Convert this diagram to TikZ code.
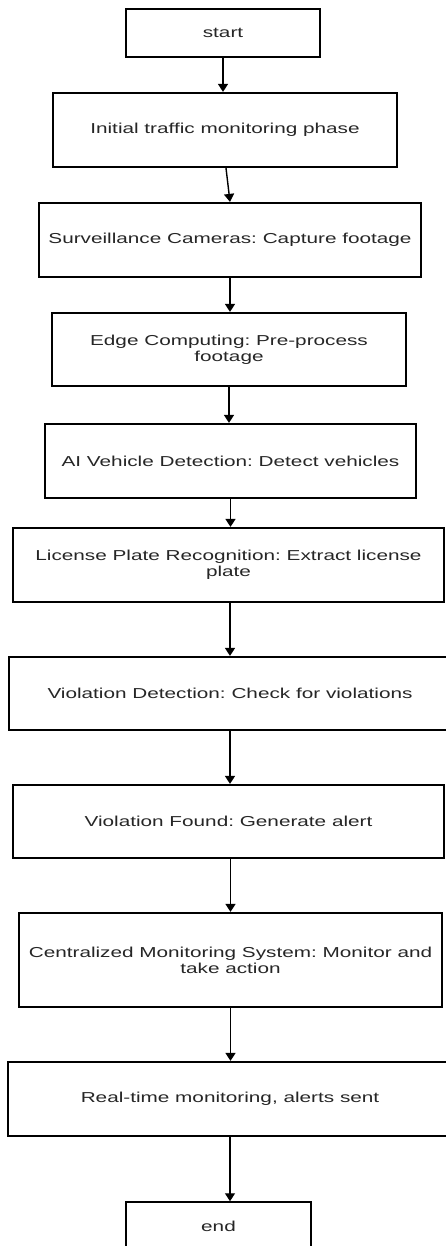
\documentclass[tikz,border=0pt]{standalone}
\usepackage{fontspec}
\setmainfont{Liberation Sans}[FakeStretch=1.44]
\usetikzlibrary{arrows.meta}

\tikzset{
  flowbox/.style={draw=black, line width=2.2pt, fill=white, align=center,
    inner xsep=0pt, inner ysep=0pt, text=black!85,
    font=\frenchspacing\fontsize{14.4}{16}\selectfont},
  termbox/.style={flowbox, line width=1.5pt},
  flowarrow/.style={draw=black, line width=1.4pt,
    -{Triangle[width=10pt,length=8pt]}}
}

\begin{document}
\begin{tikzpicture}[x=1pt, y=-1pt]
\useasboundingbox (0,0) rectangle (446,1246);

% process steps, top to bottom
\node[termbox, minimum width=194pt, minimum height=48pt] (start) at (223,33) {start};
\node[flowbox, minimum width=344pt, minimum height=74pt] (init) at (225,130) {Initial traffic monitoring phase};
\node[flowbox, minimum width=382pt, minimum height=74pt] (surv) at (230,240) {Surveillance Cameras: Capture footage};
\node[flowbox, minimum width=354pt, minimum height=73pt] (edge) at (229,349.5) {Edge Computing: Pre-process\\footage};
\node[flowbox, minimum width=371pt, minimum height=74pt] (ai) at (230.5,461) {AI Vehicle Detection: Detect vehicles};
\node[flowbox, minimum width=431pt, minimum height=74pt] (lpr) at (228.5,565) {License Plate Recognition: Extract license\\plate};
\node[flowbox, minimum width=442pt, minimum height=73pt] (vdet) at (230,693.5) {Violation Detection: Check for violations};
\node[flowbox, minimum width=431pt, minimum height=73pt] (vfound) at (228.5,821.5) {Violation Found: Generate alert};
\node[flowbox, minimum width=423pt, minimum height=94pt] (cms) at (230.5,960) {Centralized Monitoring System: Monitor and\\take action};
\node[flowbox, minimum width=444pt, minimum height=74pt] (rt) at (230,1099) {Real-time monitoring, alerts sent};
\node[termbox, minimum width=185pt, minimum height=48pt] (end) at (218.5,1226) {end};

% connectors
\draw[flowarrow] (start.south) -- (start.south |- init.north);
\draw[flowarrow] ([xshift=1pt]init.south) -- (surv.north);
\draw[flowarrow] (surv.south) -- (surv.south |- edge.north);
\draw[flowarrow] (edge.south) -- (edge.south |- ai.north);
\draw[flowarrow] (ai.south) -- (ai.south |- lpr.north);
\draw[flowarrow] (vdet.north |- lpr.south) -- (vdet.north);
\draw[flowarrow] (vdet.south) -- (vdet.south |- vfound.north);
\draw[flowarrow] (cms.north |- vfound.south) -- (cms.north);
\draw[flowarrow] (cms.south) -- (cms.south |- rt.north);
\draw[flowarrow] (rt.south) -- (rt.south |- end.north);
\end{tikzpicture}
\end{document}
